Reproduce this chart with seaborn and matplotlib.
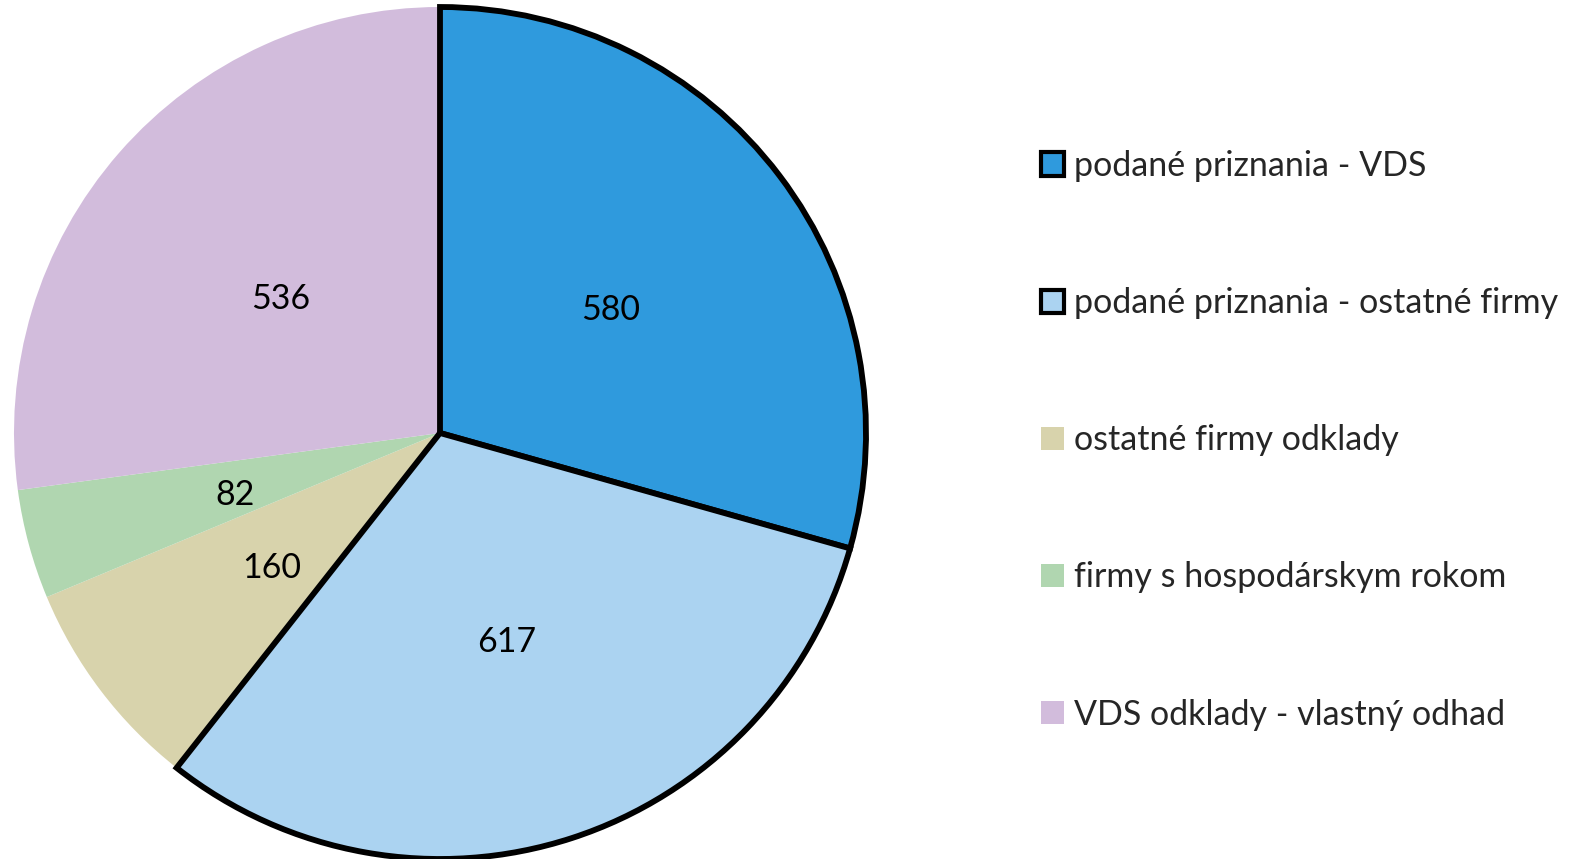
import matplotlib
matplotlib.use("Agg")
import matplotlib.pyplot as plt
import matplotlib.transforms as mtransforms
import seaborn as sns
from matplotlib.patches import Patch

# data
labels = [
    "podané priznania - VDS",
    "podané priznania - ostatné firmy",
    "ostatné firmy odklady",
    "firmy s hospodárskym rokom",
    "VDS odklady - vlastný odhad",
]
values = [580, 617, 160, 82, 536]
colors = ["#2F9ADD", "#ABD3F1", "#D8D3AC", "#B0D6B0", "#D2BCDC"]
outlined = [True, True, False, False, False]

sns.set_theme(style="white")
plt.rcParams["font.family"] = ["Lato", "DejaVu Sans"]

total = sum(values)

fig = plt.figure(figsize=(15.71, 8.59), dpi=100)
ax = fig.add_axes([14 / 1571, 0.0, 852 / 1571, 852 / 859])

wedges, texts, autotexts = ax.pie(
    values,
    colors=colors,
    startangle=90,
    counterclock=False,
    radius=1.0,
    autopct=lambda p: f"{round(p * total / 100):d}",
    pctdistance=0.5,
    textprops={"fontsize": 24.5, "color": "black"},
)
for w, o in zip(wedges, outlined):
    if o:
        w.set_edgecolor("black")
        w.set_linewidth(4.2)
        w.set_zorder(3)
    else:
        w.set_edgecolor("none")
# nudge the value labels down a little
shift = mtransforms.offset_copy(ax.transData, fig=fig, x=1, y=-6, units="dots")
for t in autotexts:
    t.set_transform(shift)
    t.set_zorder(5)
ax.set_xlim(-1.0, 1.0)
ax.set_ylim(-1.0, 1.0)
ax.set_aspect("equal")
ax.axis("off")

handles = [
    Patch(facecolor=c, edgecolor="black" if o else "none", linewidth=3.0 if o else 0)
    for c, o in zip(colors, outlined)
]
fig.legend(
    handles,
    labels,
    loc="upper left",
    bbox_to_anchor=(1041 / 1571, 1 - 150 / 859),
    frameon=False,
    fontsize=24.5,
    handlelength=0.68,
    handleheight=0.68,
    handletextpad=0.3,
    labelspacing=3.09,
    borderaxespad=0,
    borderpad=0,
)

fig.savefig("out.png", dpi=100)
